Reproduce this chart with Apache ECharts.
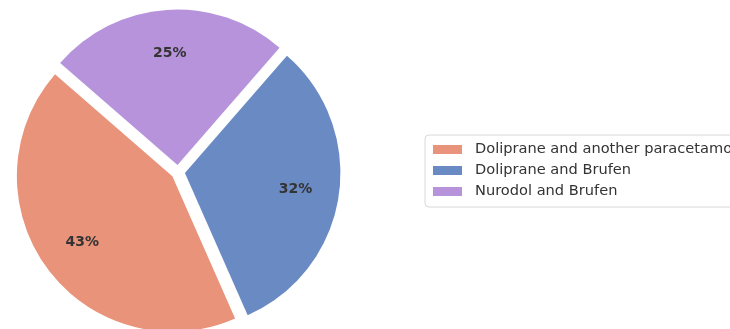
<!DOCTYPE html>
<html>
<head>
<meta charset="utf-8">
<script src="https://cdn.jsdelivr.net/npm/echarts@6/dist/echarts.min.js"></script>
<style>
html,body{margin:0;padding:0;background:#fff;}
#chart{width:730px;height:329px;}
</style>
</head>
<body>
<div id="chart"></div>
<script>
const categories = ['Doliprane and another paracetamol', 'Doliprane and Brufen', 'Nurodol and Brufen'];
const values = [43, 32, 25];
const colors = ['#E8937A', '#6A8AC4', '#B693DB'];

const chart = echarts.init(document.getElementById('chart'));
const font = 'DejaVu Sans';
const center = [178, 172];
const R = 155.5;
const offset = 7;

const mainData = categories.map((c, i) => ({
  name: c, value: values[i], selected: true,
  itemStyle: { color: colors[i] }
}));
const labelData = categories.map((c, i) => ({
  name: c, value: values[i], selected: true
}));

chart.setOption({
  animation: false,
  backgroundColor: '#fff',
  legend: {
    data: categories,
    orient: 'vertical',
    left: 425,
    top: 135,
    padding: [7, 8, 8, 8],
    itemGap: 6,
    itemWidth: 29,
    itemHeight: 9,
    icon: 'rect',
    borderColor: '#d8d8d8',
    borderWidth: 1,
    borderRadius: 4,
    backgroundColor: '#fff',
    selectedMode: false,
    textStyle: { fontFamily: font, fontSize: 14.6, color: '#333', padding: [0, 0, 0, 8] }
  },
  series: [
    {
      type: 'pie',
      name: 'main',
      center: center,
      radius: R,
      startAngle: 139,
      clockwise: false,
      selectedMode: 'multiple',
      selectedOffset: offset,
      silent: true,
      label: { show: false },
      labelLine: { show: false },
      emphasis: { disabled: true },
      data: mainData
    },
    {
      type: 'pie',
      name: 'labels',
      center: center,
      radius: [R * 0.4, R],
      startAngle: 139,
      clockwise: false,
      selectedMode: 'multiple',
      selectedOffset: offset,
      silent: true,
      itemStyle: { color: 'rgba(0,0,0,0)' },
      emphasis: { disabled: true },
      labelLine: { show: false },
      label: {
        show: true,
        position: 'inside',
        fontFamily: font,
        fontSize: 14,
        fontWeight: 'bold',
        color: '#333',
        formatter: p => Math.round(p.percent) + '%'
      },
      data: labelData
    }
  ]
});
</script>
</body>
</html>
